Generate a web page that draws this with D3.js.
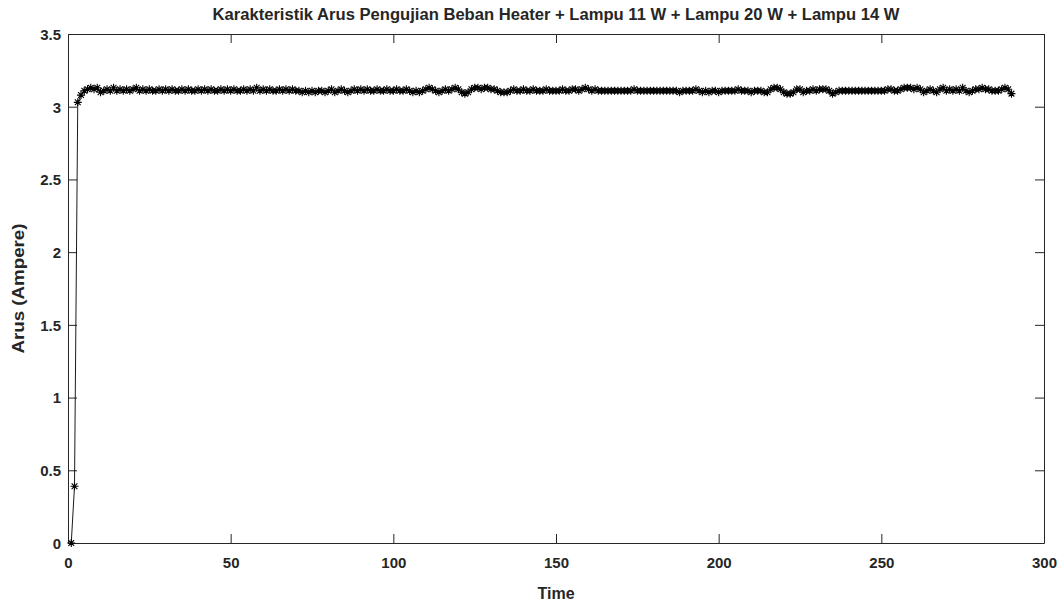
<!DOCTYPE html>
<html>
<head>
<meta charset="utf-8">
<script src="https://cdn.jsdelivr.net/npm/d3@7"></script>
<style>
  html, body { margin: 0; padding: 0; background: #fff; }
  svg { display: block; }
  text { font-family: "Liberation Sans", Arial, Helvetica, sans-serif; font-weight: bold; fill: #262626; }
</style>
</head>
<body>
<svg id="chart" width="1063" height="604"></svg>
<script>
const titleText = "Karakteristik Arus Pengujian Beban Heater + Lampu 11 W + Lampu 20 W + Lampu 14 W";
const xLabel = "Time";
const yLabel = "Arus (Ampere)";
const xTicks = [0, 50, 100, 150, 200, 250, 300];
const yTicks = [0, 0.5, 1, 1.5, 2, 2.5, 3, 3.5];
const xDomain = [0, 300];
const yDomain = [0, 3.5];

// Arus values, one per time step (time = 1..290)
const arus = [
  0, 0.39, 3.03, 3.08, 3.11, 3.12, 3.13, 3.12, 3.13, 3.10,
  3.11, 3.12, 3.11, 3.13, 3.11, 3.12, 3.11, 3.12, 3.11, 3.12,
  3.13, 3.11, 3.12, 3.11, 3.12, 3.11, 3.11, 3.12, 3.11, 3.12,
  3.11, 3.12, 3.11, 3.11, 3.12, 3.11, 3.12, 3.11, 3.11, 3.12,
  3.11, 3.12, 3.11, 3.12, 3.11, 3.11, 3.12, 3.11, 3.12, 3.11,
  3.12, 3.11, 3.11, 3.12, 3.11, 3.12, 3.11, 3.13, 3.11, 3.12,
  3.11, 3.12, 3.11, 3.11, 3.12, 3.11, 3.12, 3.11, 3.12, 3.11,
  3.11, 3.10, 3.11, 3.10, 3.11, 3.10, 3.11, 3.11, 3.10, 3.11,
  3.12, 3.10, 3.11, 3.12, 3.11, 3.10, 3.11, 3.12, 3.11, 3.12,
  3.11, 3.12, 3.11, 3.11, 3.12, 3.11, 3.11, 3.12, 3.11, 3.11,
  3.12, 3.11, 3.11, 3.12, 3.11, 3.10, 3.11, 3.10, 3.11, 3.12,
  3.13, 3.12, 3.11, 3.10, 3.11, 3.12, 3.11, 3.12, 3.13, 3.12,
  3.10, 3.09, 3.10, 3.12, 3.13, 3.13, 3.12, 3.13, 3.13, 3.12,
  3.12, 3.11, 3.10, 3.10, 3.10, 3.11, 3.12, 3.11, 3.11, 3.12,
  3.11, 3.11, 3.12, 3.11, 3.11, 3.11, 3.12, 3.11, 3.11, 3.11,
  3.11, 3.12, 3.11, 3.11, 3.12, 3.12, 3.11, 3.12, 3.13, 3.12,
  3.11, 3.12, 3.11, 3.11, 3.11, 3.11, 3.11, 3.11, 3.11, 3.11,
  3.11, 3.11, 3.11, 3.12, 3.11, 3.11, 3.11, 3.11, 3.11, 3.11,
  3.11, 3.11, 3.11, 3.11, 3.11, 3.11, 3.11, 3.10, 3.11, 3.11,
  3.11, 3.11, 3.12, 3.11, 3.10, 3.11, 3.10, 3.11, 3.11, 3.10,
  3.11, 3.11, 3.11, 3.11, 3.11, 3.12, 3.11, 3.11, 3.11, 3.10,
  3.11, 3.11, 3.11, 3.10, 3.10, 3.12, 3.13, 3.13, 3.12, 3.10,
  3.09, 3.09, 3.10, 3.12, 3.12, 3.10, 3.11, 3.11, 3.12, 3.11,
  3.12, 3.12, 3.12, 3.11, 3.09, 3.10, 3.11, 3.11, 3.11, 3.11,
  3.11, 3.11, 3.11, 3.11, 3.11, 3.11, 3.11, 3.11, 3.11, 3.11,
  3.11, 3.12, 3.12, 3.11, 3.11, 3.12, 3.13, 3.13, 3.13, 3.12,
  3.13, 3.12, 3.10, 3.11, 3.12, 3.11, 3.10, 3.12, 3.13, 3.11,
  3.12, 3.11, 3.12, 3.11, 3.13, 3.11, 3.10, 3.11, 3.12, 3.12,
  3.13, 3.12, 3.12, 3.11, 3.11, 3.11, 3.12, 3.13, 3.12, 3.09
];
const time = arus.map((_, i) => i + 1);

const svg = d3.select("#chart");
const margin = { left: 68, right: 1063 - 1044, top: 34, bottom: 604 - 543 };
const W = 1063, H = 604;
const x = d3.scaleLinear().domain(xDomain).range([margin.left, W - margin.right]);
const y = d3.scaleLinear().domain(yDomain).range([H - margin.bottom, margin.top]);
const axisColor = "#262626";
const tickLen = 9;

svg.append("rect").attr("x", 0).attr("y", 0).attr("width", W).attr("height", H).attr("fill", "#fff");

const fmt = d => d3.format("")(d);
const gB = svg.append("g").attr("transform", `translate(0,${y(0)})`)
  .call(d3.axisBottom(x).tickValues(xTicks).tickSizeInner(-tickLen).tickSizeOuter(0).tickPadding(14).tickFormat(fmt));
const gT = svg.append("g").attr("transform", `translate(0,${y(3.5)})`)
  .call(d3.axisTop(x).tickValues(xTicks).tickSizeInner(-tickLen).tickSizeOuter(0).tickFormat(""));
const gL = svg.append("g").attr("transform", `translate(${x(0)},0)`)
  .call(d3.axisLeft(y).tickValues(yTicks).tickSizeInner(-tickLen).tickSizeOuter(0).tickPadding(7).tickFormat(fmt));
const gR = svg.append("g").attr("transform", `translate(${x(300)},0)`)
  .call(d3.axisRight(y).tickValues(yTicks).tickSizeInner(-tickLen).tickSizeOuter(0).tickFormat(""));

[gB, gT, gL, gR].forEach(g => {
  g.select(".domain").attr("stroke", axisColor).attr("stroke-width", 1);
  g.selectAll(".tick line").attr("stroke", axisColor).attr("stroke-width", 1);
  g.selectAll(".tick text").attr("fill", axisColor)
    .style("font-family", "'Liberation Sans', Arial, sans-serif")
    .style("font-weight", "bold").style("font-size", "15px");
});
gB.selectAll(".tick text").attr("dy", "0.71em");
gL.selectAll(".tick text").attr("dy", "0.36em");

const line = d3.line().x((d, i) => x(time[i])).y(d => y(d));
svg.append("path").datum(arus).attr("d", line)
  .attr("fill", "none").attr("stroke", "#000").attr("stroke-width", 0.9);

const s = 4.0, sd = s * 0.72;
const star = `M${-s},0L${s},0M0,${-s}L0,${s}M${-sd},${-sd}L${sd},${sd}M${-sd},${sd}L${sd},${-sd}`;
svg.append("g").selectAll("path").data(arus).join("path")
  .attr("transform", (d, i) => `translate(${x(time[i])},${y(d)})`)
  .attr("d", star).attr("fill", "none").attr("stroke", "#000").attr("stroke-width", 1.1);

svg.append("text").attr("x", (x(0) + x(300)) / 2).attr("y", 20)
  .attr("text-anchor", "middle").style("font-size", "16px")
  .attr("textLength", 687).attr("lengthAdjust", "spacingAndGlyphs")
  .attr("fill", "#000").text(titleText);

svg.append("text").attr("x", (x(0) + x(300)) / 2).attr("y", 599)
  .attr("text-anchor", "middle").style("font-size", "16px")
  .attr("fill", axisColor).text(xLabel);

svg.append("text").attr("transform", `translate(24,${(y(0) + y(3.5)) / 2}) rotate(-90)`)
  .attr("text-anchor", "middle").style("font-size", "16px")
  .attr("textLength", 130).attr("lengthAdjust", "spacingAndGlyphs")
  .attr("fill", axisColor).text(yLabel);
</script>
</body>
</html>
